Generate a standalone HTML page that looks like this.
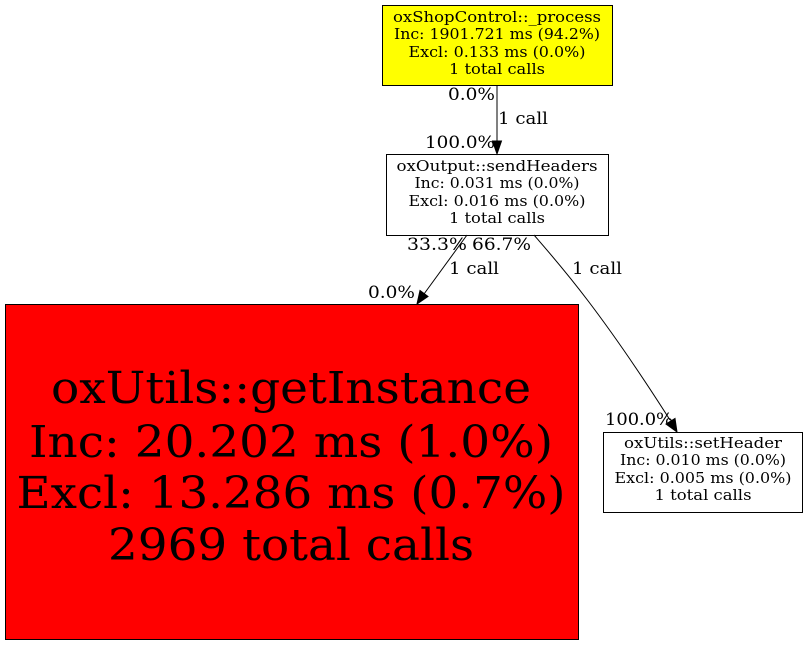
<!DOCTYPE html>
<html><head><meta charset="utf-8"><style>
html,body{margin:0;padding:0;background:#fff;}
svg{display:block;}
.n{font-family:"DejaVu Serif","Liberation Serif",serif;font-size:15px;}
.e{font-family:"DejaVu Serif","Liberation Serif",serif;font-size:17px;}
.b{font-family:"DejaVu Serif","Liberation Serif",serif;font-size:44px;}
</style></head><body>
<svg width="808" height="645" viewBox="0 0 808 645" xmlns="http://www.w3.org/2000/svg">
<rect x="0" y="0" width="808" height="645" fill="#fff"/>
<rect x="382.5" y="5.5" width="230" height="80" fill="#ffff00" stroke="#000"/>
<g class="n" text-anchor="middle">
<text x="497" y="22" textLength="208" lengthAdjust="spacingAndGlyphs">oxShopControl::_process</text>
<text x="497" y="39" textLength="206" lengthAdjust="spacingAndGlyphs">Inc: 1901.721 ms (94.2%)</text>
<text x="497" y="57" textLength="177" lengthAdjust="spacingAndGlyphs">Excl: 0.133 ms (0.0%)</text>
<text x="497" y="74" textLength="96" lengthAdjust="spacingAndGlyphs">1 total calls</text>
</g>
<rect x="386.5" y="154.5" width="222" height="81" fill="#fff" stroke="#000"/>
<g class="n" text-anchor="middle">
<text x="497" y="171" textLength="201" lengthAdjust="spacingAndGlyphs">oxOutput::sendHeaders</text>
<text x="497" y="188" textLength="165" lengthAdjust="spacingAndGlyphs">Inc: 0.031 ms (0.0%)</text>
<text x="497" y="206" textLength="177" lengthAdjust="spacingAndGlyphs">Excl: 0.016 ms (0.0%)</text>
<text x="497" y="223" textLength="96" lengthAdjust="spacingAndGlyphs">1 total calls</text>
</g>
<rect x="5.5" y="304.5" width="573" height="335" fill="#ff0000" stroke="#000"/>
<g class="b" text-anchor="middle">
<text x="291" y="403" textLength="480" lengthAdjust="spacingAndGlyphs">oxUtils::getInstance</text>
<text x="291" y="457" textLength="524" lengthAdjust="spacingAndGlyphs">Inc: 20.202 ms (1.0%)</text>
<text x="291" y="508" textLength="549" lengthAdjust="spacingAndGlyphs">Excl: 13.286 ms (0.7%)</text>
<text x="291" y="560" textLength="366" lengthAdjust="spacingAndGlyphs">2969 total calls</text>
</g>
<rect x="603.5" y="432.5" width="199" height="80" fill="#fff" stroke="#000"/>
<g class="n" text-anchor="middle">
<text x="703" y="448" textLength="158" lengthAdjust="spacingAndGlyphs">oxUtils::setHeader</text>
<text x="703" y="465" textLength="166" lengthAdjust="spacingAndGlyphs">Inc: 0.010 ms (0.0%)</text>
<text x="703" y="483" textLength="177" lengthAdjust="spacingAndGlyphs">Excl: 0.005 ms (0.0%)</text>
<text x="703" y="500" textLength="97" lengthAdjust="spacingAndGlyphs">1 total calls</text>
</g>
<line x1="497" y1="86" x2="497" y2="142" stroke="#000" stroke-width="1"/>
<polygon points="497,154 492.5,141 501.5,141" fill="#000" stroke="#000"/>
<line x1="467" y1="235" x2="424" y2="294" stroke="#000" stroke-width="1"/>
<polygon points="417,304 420,290.5 428,296.5" fill="#000" stroke="#000"/>
<path d="M534,235 C560,265 600,310 670,420" fill="none" stroke="#000" stroke-width="1"/>
<polygon points="677,432 666,424 675,418.5" fill="#000" stroke="#000"/>
<g class="e">
<text x="448" y="100" textLength="47" lengthAdjust="spacingAndGlyphs">0.0%</text>
<text x="498" y="124" textLength="50" lengthAdjust="spacingAndGlyphs">1 call</text>
<text x="425" y="148" textLength="70" lengthAdjust="spacingAndGlyphs">100.0%</text>
<text x="407" y="250" textLength="60" lengthAdjust="spacingAndGlyphs">33.3%</text>
<text x="472" y="250" textLength="59" lengthAdjust="spacingAndGlyphs">66.7%</text>
<text x="449" y="274" textLength="50" lengthAdjust="spacingAndGlyphs">1 call</text>
<text x="572" y="274" textLength="50" lengthAdjust="spacingAndGlyphs">1 call</text>
<text x="368" y="298" textLength="47" lengthAdjust="spacingAndGlyphs">0.0%</text>
<text x="605" y="425" textLength="68" lengthAdjust="spacingAndGlyphs">100.0%</text>
</g>
</svg>
</body></html>
